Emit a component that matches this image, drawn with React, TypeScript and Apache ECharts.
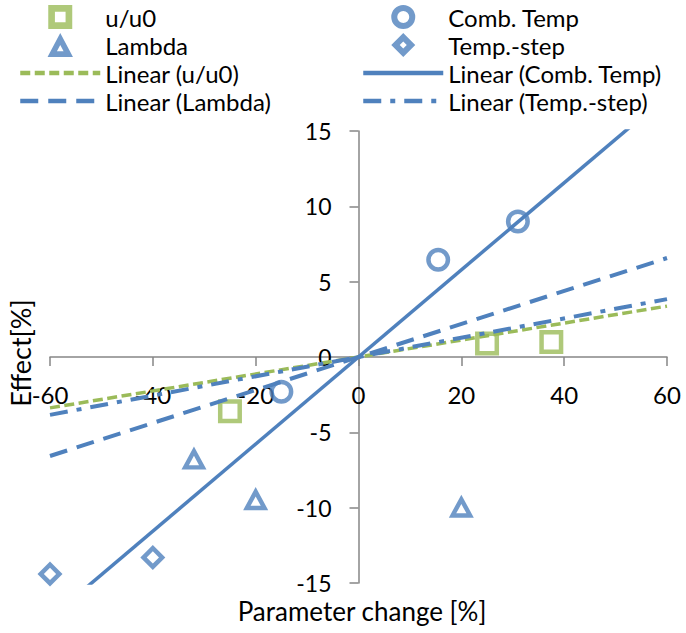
import React, { useEffect, useRef } from "react";
import * as echarts from "echarts";

const GREEN = "#9BBB59";
const BLUE = "#4F81BD";
const AXIS = "#868686";
const FONT = "Lato, 'Open Sans', sans-serif";

// scatter data: [parameter change %, effect %]
const uu0Points = [[-25, -3.6], [25, 0.9], [37.5, 1.0]];
const combTempPoints = [[-15, -2.3], [15.5, 6.45], [31, 9.0]];
const lambdaPoints = [[-32, -6.7], [-20, -9.4], [20, -9.9]];
const tempStepPoints = [[-60, -14.4], [-40, -13.3]];

// trendline slopes (through origin)
const trendNames = ["Linear (u/u0)", "Linear (Comb. Temp)", "Linear (Lambda)", "Linear (Temp.-step)"];
const trendSlopes = [0.0563, 0.289, 0.1095, 0.064];

const xTicks = [-60, -40, -20, 0, 20, 40, 60];
const yTicks = [-15, -10, -5, 0, 5, 10, 15];

const trend = (slope: number) => [
  [xTicks[0], slope * xTicks[0]],
  [xTicks[xTicks.length - 1], slope * xTicks[xTicks.length - 1]],
];

// hollow marker shapes (filled rings)
const SQ = "path://M0,0H24V24H0Z M4.5,4.5V19.5H19.5V4.5Z";
const CI = "path://M0,12A12,12 0 1,1 24,12A12,12 0 1,1 0,12Z M4.5,12A7.5,7.5 0 1,0 19.5,12A7.5,7.5 0 1,0 4.5,12Z";
const TR = "path://M12.5,0L25,24L0,24Z M12.5,9.75L7.42,19.5L17.58,19.5Z";
const DI = "path://M12.5,0L25,12.5L12.5,25L0,12.5Z M12.5,6.36L6.36,12.5L12.5,18.64L18.64,12.5Z";
// legend versions (thicker rings)
const LSQ = "path://M0,0H18V18H0Z M5,5V13H13V5Z";
const LCI = "path://M0,9A9,9 0 1,1 18,9A9,9 0 1,1 0,9Z M4.5,9A4.5,4.5 0 1,0 13.5,9A4.5,4.5 0 1,0 4.5,9Z";
const LTR = "path://M9,0L18,17L0,17Z M9,8.55L6.64,13L11.36,13Z";
const LDI = "path://M9,0L18,9L9,18L0,9Z M9,6.36L6.36,9L9,11.64L11.64,9Z";

export default function App() {
  const ref = useRef<HTMLDivElement>(null);
  useEffect(() => {
    if (!ref.current) return;
    const chart = echarts.init(ref.current, null, { renderer: "svg" });
    const fill = (c: string) => ({ color: c, borderWidth: 0 });
    const hide = { itemStyle: { opacity: 0 } };
    const legendCommon = {
      orient: "vertical" as const,
      top: 5,
      padding: 0,
      itemWidth: 80,
      itemHeight: 24,
      itemGap: 4,
      lineStyle: { width: 4.5 },
      textStyle: { fontFamily: FONT, fontSize: 24, lineHeight: 24, color: "#000" },
      selectedMode: false,
    };
    const axisCommon = {
      type: "value" as const,
      splitLine: { show: false },
      axisTick: { show: true, inside: false, length: 9, lineStyle: { color: AXIS, width: 1.5 } },
    };
    chart.setOption({
      animation: false,
      textStyle: { fontFamily: FONT },
      grid: { left: 50, right: 19, top: 131, bottom: 50, containLabel: false, outerBoundsMode: "none" },
      legend: [
        {
          ...legendCommon,
          left: 18,
          data: [
            { name: "u/u0", icon: LSQ },
            { name: "Lambda", icon: LTR },
            { name: trendNames[0], ...hide },
            { name: trendNames[2], ...hide },
          ],
        },
        {
          ...legendCommon,
          left: 361,
          data: [
            { name: "Comb. Temp", icon: LCI },
            { name: "Temp.-step", icon: LDI },
            { name: trendNames[1], ...hide },
            { name: trendNames[3], ...hide },
          ],
        },
      ],
      xAxis: {
        ...axisCommon,
        position: "bottom",
        offset: -226,
        min: xTicks[0],
        max: xTicks[xTicks.length - 1],
        interval: 20,
        axisLine: { onZero: false, lineStyle: { color: AXIS, width: 1.5 } },
        axisLabel: { fontSize: 24, lineHeight: 20, color: "#000", margin: 27, fontFamily: FONT },
      },
      yAxis: {
        ...axisCommon,
        position: "left",
        offset: -308.5,
        min: yTicks[0],
        max: yTicks[yTicks.length - 1],
        interval: 5,
        axisLine: { show: true, onZero: false, lineStyle: { color: AXIS, width: 1.5 } },
        axisLabel: { fontSize: 23, lineHeight: 20, color: "#000", margin: 27, fontFamily: FONT },
      },
      graphic: [
        {
          type: "text",
          x: 20,
          y: 353,
          rotation: Math.PI / 2,
          style: { text: "Effect[%]", fontSize: 27, lineHeight: 22, fontFamily: FONT, fill: "#000", align: "center", verticalAlign: "middle" },
        },
        {
          type: "text",
          x: 362,
          y: 611,
          style: { text: "Parameter change [%]", fontSize: 26, lineHeight: 22, fontFamily: FONT, fill: "#000", align: "center", verticalAlign: "middle" },
        },
      ],
      series: [
        { name: "u/u0", type: "scatter", symbol: SQ, symbolSize: 24, symbolKeepAspect: true, data: uu0Points, itemStyle: fill(GREEN), z: 3 },
        { name: "Comb. Temp", type: "scatter", symbol: CI, symbolSize: 24, symbolKeepAspect: true, data: combTempPoints, itemStyle: fill(BLUE), z: 3 },
        { name: "Lambda", type: "scatter", symbol: TR, symbolSize: [25, 24], symbolKeepAspect: true, data: lambdaPoints, itemStyle: fill(BLUE), z: 3 },
        { name: "Temp.-step", type: "scatter", symbol: DI, symbolSize: 25, symbolKeepAspect: true, data: tempStepPoints, itemStyle: fill(BLUE), z: 3 },
        { name: trendNames[0], type: "line", symbol: "none", data: trend(trendSlopes[0]), lineStyle: { color: GREEN, width: 3.5, type: [10, 4.5] }, itemStyle: { color: GREEN }, z: 4 },
        { name: trendNames[1], type: "line", symbol: "none", data: trend(trendSlopes[1]), lineStyle: { color: BLUE, width: 3.5, type: "solid" }, itemStyle: { color: BLUE }, z: 4 },
        { name: trendNames[2], type: "line", symbol: "none", data: trend(trendSlopes[2]), lineStyle: { color: BLUE, width: 4, type: [18, 10] }, itemStyle: { color: BLUE }, z: 4 },
        { name: trendNames[3], type: "line", symbol: "none", data: trend(trendSlopes[3]), lineStyle: { color: BLUE, width: 4, type: [18, 9, 5, 9] }, itemStyle: { color: BLUE }, z: 4 },
      ],
    });
    return () => chart.dispose();
  }, []);
  return <div ref={ref} style={{ position: "fixed", left: 0, top: 0, width: 686, height: 633, background: "#fff" }} />;
}
